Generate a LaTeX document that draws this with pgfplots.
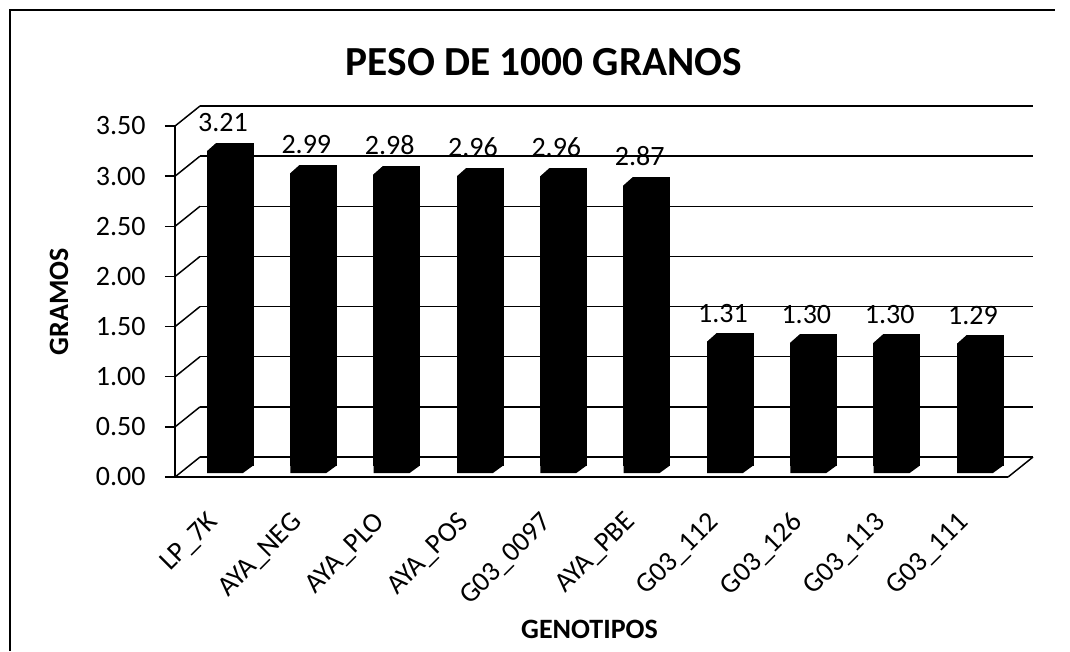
\documentclass[border=0pt]{standalone}
\usepackage{pgfplots}
\usepackage{fontspec}
\setmainfont{Carlito}
\pgfplotsset{compat=1.18}
\pgfdeclareplotmark{chamfer}{%
  \pgfpathmoveto{\pgfpoint{-18pt}{0.6pt}}%
  \pgfpathlineto{\pgfpoint{-10pt}{0.6pt}}%
  \pgfpathlineto{\pgfpoint{-18pt}{-6.5pt}}%
  \pgfpathclose\pgfusepathqfill}
\pgfdeclareplotmark{barfoot}{%
  \pgfpathmoveto{\pgfpoint{-17.25pt}{1pt}}%
  \pgfpathlineto{\pgfpoint{17.25pt}{1pt}}%
  \pgfpathlineto{\pgfpoint{17.25pt}{-0.5pt}}%
  \pgfpathlineto{\pgfpoint{9.75pt}{-6pt}}%
  \pgfpathlineto{\pgfpoint{-17.25pt}{-6pt}}%
  \pgfpathclose\pgfusepathqfill}
\pgfplotstableread{
x v
0 3.21
1 2.99
2 2.98
3 2.96
4 2.96
5 2.87
6 1.31
7 1.30
8 1.30
9 1.29
}\datatable
\begin{document}
\begin{tikzpicture}
\useasboundingbox (0pt,0pt) rectangle (802.5pt,488.25pt);
% outer frame (open at the bottom and on the right)
\draw[line width=1.2pt] (7.5pt,0pt) -- (7.5pt,480.75pt) -- (791pt,480.75pt);
\node[font=\bfseries\fontsize{31}{36}\selectfont] at (408pt,441.75pt) {PESO DE 1000 GRANOS};
% frame axis: front plane, holds ticks, labels and the depth box
\begin{axis}[
  at={(131.25pt,130.5pt)}, anchor=south west,
  scale only axis, width=624.75pt, height=263.25pt,
  xmin=-0.66, xmax=9.336, ymin=0, ymax=3.5,
  axis x line=bottom, axis y line=left,
  axis line style={-,line width=1.2pt},
  xtick={0,...,9},
  xticklabels={LP\_7K,AYA\_NEG,AYA\_PLO,AYA\_POS,G03\_0097,AYA\_PBE,G03\_112,G03\_126,G03\_113,G03\_111},
  x tick style={draw=none},
  xticklabel style={rotate=45,anchor=north east,font=\fontsize{21}{24}\selectfont,xshift=-21.4pt,yshift=3.5pt},
  ytick={0,0.5,...,3.5},
  yticklabel={\pgfmathprintnumber[fixed,fixed zerofill,precision=2]{\tick}},
  yticklabel style={font=\fontsize{21}{24}\selectfont,xshift=-11pt},
  /pgf/number format/assume math mode=true,
  y tick style={black,line width=1.1pt},
  tick align=outside,
  major tick length=7.5pt,
  xlabel={GENOTIPOS},
  xlabel style={font=\bfseries\fontsize{21}{24}\selectfont,at={(axis description cs:0.5,0)},anchor=center,yshift=-114pt,xshift=-1.5pt},
  ylabel={GRAMOS},
  ylabel style={font=\bfseries\fontsize{21}{24}\selectfont,at={(axis description cs:0,0.5)},anchor=center,yshift=87pt},
  clip=false,
]
\end{axis}
% back wall: same scale, shifted 25 px right and 20 px up; grid and depth lines
\begin{axis}[
  at={(150pt,145.5pt)}, anchor=south west,
  scale only axis, width=624.75pt, height=263.25pt,
  xmin=-0.66, xmax=9.336, ymin=0, ymax=3.5,
  axis lines=none, clip=false,
]
\addplot[black,line width=1.1pt,forget plot] coordinates {(-0.66,3.5) (9.336,3.5)};
\addplot[black,line width=1.1pt,forget plot] coordinates {(-0.66,3.0) (9.336,3.0)};
\addplot[black,line width=1.1pt,forget plot] coordinates {(-0.66,2.5) (9.336,2.5)};
\addplot[black,line width=1.1pt,forget plot] coordinates {(-0.66,2.0) (9.336,2.0)};
\addplot[black,line width=1.1pt,forget plot] coordinates {(-0.66,1.5) (9.336,1.5)};
\addplot[black,line width=1.1pt,forget plot] coordinates {(-0.66,1.0) (9.336,1.0)};
\addplot[black,line width=1.1pt,forget plot] coordinates {(-0.66,0.5) (9.336,0.5)};
\addplot[black,line width=1.1pt,forget plot] coordinates {(-0.66,0) (9.336,0)};
\addplot[black,line width=1.1pt,forget plot] coordinates {(-0.96,-0.2) (-0.66,0)};
\addplot[black,line width=1.1pt,forget plot] coordinates {(-0.96,0.3) (-0.66,0.5)};
\addplot[black,line width=1.1pt,forget plot] coordinates {(-0.96,0.8) (-0.66,1.0)};
\addplot[black,line width=1.1pt,forget plot] coordinates {(-0.96,1.3) (-0.66,1.5)};
\addplot[black,line width=1.1pt,forget plot] coordinates {(-0.96,1.8) (-0.66,2.0)};
\addplot[black,line width=1.1pt,forget plot] coordinates {(-0.96,2.3) (-0.66,2.5)};
\addplot[black,line width=1.1pt,forget plot] coordinates {(-0.96,2.8) (-0.66,3.0)};
\addplot[black,line width=1.1pt,forget plot] coordinates {(-0.96,3.3) (-0.66,3.5)};
\addplot[black,line width=1.1pt,forget plot] coordinates {(9.036,-0.2) (9.336,0)};
\end{axis}
% bars: zero at 465 px, mid depth of the 3D columns
\begin{axis}[
  at={(131.25pt,139.5pt)}, anchor=south west,
  scale only axis, width=624.75pt, height=263.25pt,
  xmin=-0.66, xmax=9.336, ymin=0, ymax=3.5,
  axis lines=none, clip=false,
]
\addplot[ybar,bar width=34.5pt,fill=black,draw=black,line width=0pt,
  nodes near coords,
  point meta=explicit symbolic,
  every node near coord/.style={font=\fontsize{21}{24}\selectfont,text=black,anchor=south,xshift=-5.25pt,yshift=7pt,inner sep=1.5pt}]
  table[x=x,y=v,meta=v] {\datatable};
\addplot[only marks,mark=barfoot,black,forget plot] coordinates {(0,0)(1,0)(2,0)(3,0)(4,0)(5,0)(6,0)(7,0)(8,0)(9,0)};
\addplot[only marks,mark=chamfer,white,forget plot] table[x=x,y=v] {\datatable};
\end{axis}
\end{tikzpicture}
\end{document}
